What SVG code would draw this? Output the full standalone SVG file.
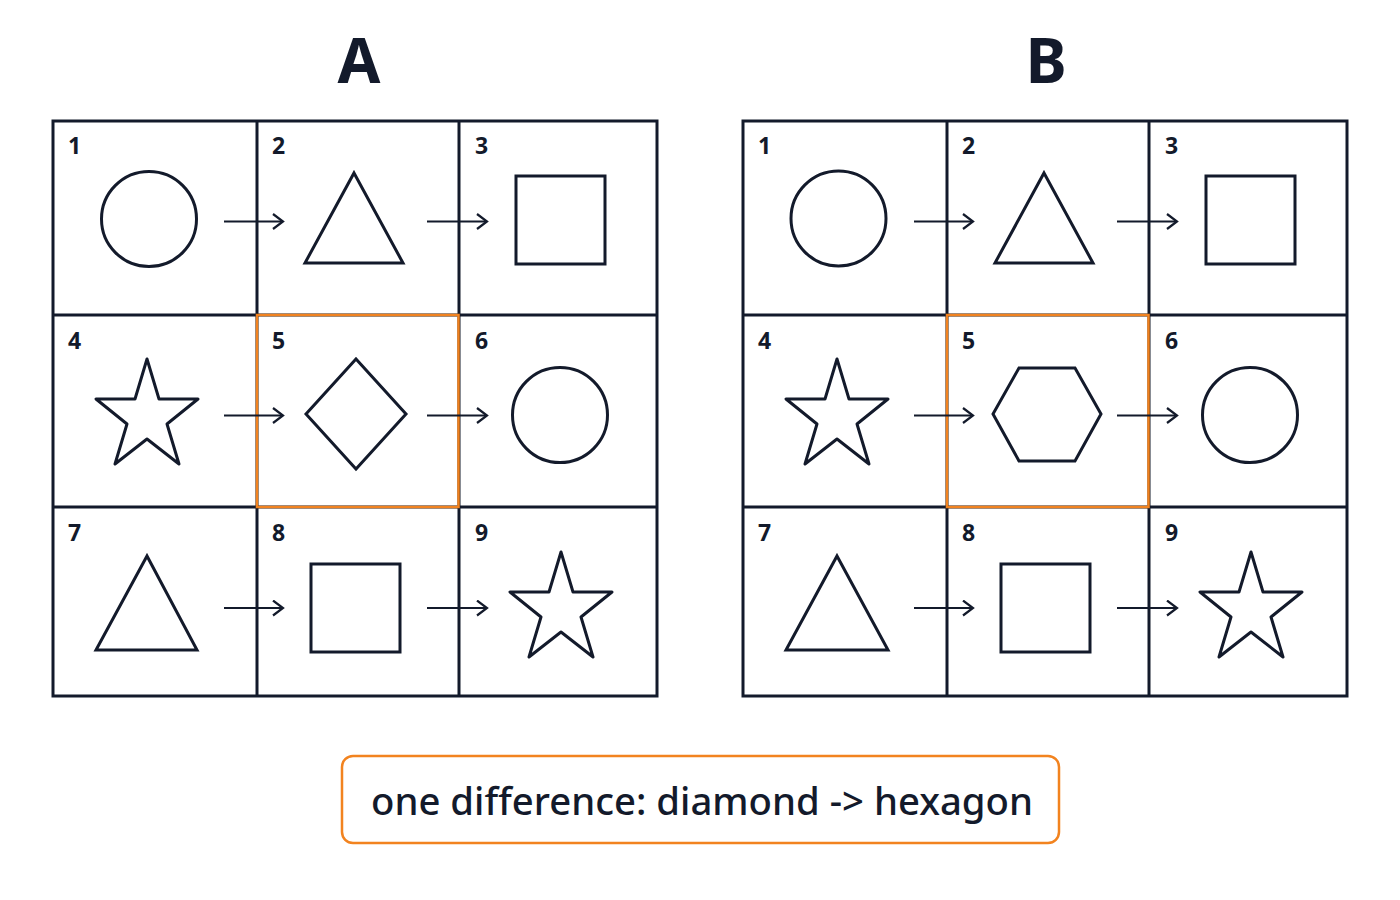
<svg xmlns="http://www.w3.org/2000/svg" width="1400" height="900" viewBox="0 0 1400 900">
<defs>
<style>
.grid{fill:none;stroke:#131a2b;stroke-width:3}
.shape{fill:none;stroke:#131a2b;stroke-width:3;stroke-linejoin:miter}
.starshape{fill:none;stroke:#131a2b;stroke-width:3;stroke-linejoin:round}
.hl{fill:none;stroke:#f2831f;stroke-width:2.5}
.num{font-family:"Noto Sans","DejaVu Sans",sans-serif;font-weight:700;font-size:23px;fill:#131a2b}
.title{font-family:"Noto Sans","DejaVu Sans",sans-serif;font-weight:700;font-size:62px;fill:#131a2b;text-anchor:middle}
.note{font-family:"Noto Sans","DejaVu Sans",sans-serif;font-weight:500;font-size:38px;fill:#131a2b}
.arrow{fill:none;stroke:#131a2b;stroke-width:2.2}
</style>
<marker id="chev" markerUnits="userSpaceOnUse" markerWidth="14" markerHeight="18" refX="11" refY="8.5" orient="auto">
<path d="M1,1 L11,8.5 L1,16" fill="none" stroke="#131a2b" stroke-width="2.2"/>
</marker>
<polygon id="star" points="0,-53 12,-13 51,-13 20,12 32,52 0,27 -32,52 -20,12 -51,-13 -12,-13"/>
</defs>
<rect width="1400" height="900" fill="#ffffff"/>

<g id="titles">
<text class="title" x="359" y="83">A</text>
<text class="title" x="1046" y="83">B</text>
</g>

<g id="gridA">
<rect class="grid" x="53" y="121" width="604" height="575"/>
<line class="grid" x1="257" y1="121" x2="257" y2="696"/>
<line class="grid" x1="459" y1="121" x2="459" y2="696"/>
<line class="grid" x1="53" y1="315" x2="657" y2="315"/>
<line class="grid" x1="53" y1="507" x2="657" y2="507"/>
</g>
<g id="gridB">
<rect class="grid" x="743" y="121" width="604" height="575"/>
<line class="grid" x1="947" y1="121" x2="947" y2="696"/>
<line class="grid" x1="1149" y1="121" x2="1149" y2="696"/>
<line class="grid" x1="743" y1="315" x2="1347" y2="315"/>
<line class="grid" x1="743" y1="507" x2="1347" y2="507"/>
</g>

<g id="A1"><text class="num" x="68" y="154">1</text><circle class="shape" cx="149" cy="219" r="47.5"/></g>
<g id="A2"><text class="num" x="272" y="154">2</text><polygon class="shape" points="354,173 403,263 305,263"/></g>
<g id="A3"><text class="num" x="475" y="154">3</text><rect class="shape" x="516" y="176" width="89" height="88"/></g>
<g id="A4"><text class="num" x="68" y="349">4</text><use href="#star" class="starshape" x="147" y="412"/></g>
<g id="A5"><text class="num" x="272" y="349">5</text><polygon class="shape" points="356,359 406,414 356,469 306,414"/></g>
<g id="A6"><text class="num" x="475" y="349">6</text><circle class="shape" cx="560" cy="415" r="47.5"/></g>
<g id="A7"><text class="num" x="68" y="541">7</text><polygon class="shape" points="147,556 197,650 96,650"/></g>
<g id="A8"><text class="num" x="272" y="541">8</text><rect class="shape" x="311" y="564" width="89" height="88"/></g>
<g id="A9"><text class="num" x="475" y="541">9</text><use href="#star" class="starshape" x="561" y="605"/></g>

<g id="B1"><text class="num" x="758" y="154">1</text><circle class="shape" cx="838.5" cy="218.5" r="47.5"/></g>
<g id="B2"><text class="num" x="962" y="154">2</text><polygon class="shape" points="1044,173 1093,263 995,263"/></g>
<g id="B3"><text class="num" x="1165" y="154">3</text><rect class="shape" x="1206" y="176" width="89" height="88"/></g>
<g id="B4"><text class="num" x="758" y="349">4</text><use href="#star" class="starshape" x="837" y="412"/></g>
<g id="B5"><text class="num" x="962" y="349">5</text><polygon class="shape" points="1019,368 1075,368 1101,414 1075,461 1019,461 993,414"/></g>
<g id="B6"><text class="num" x="1165" y="349">6</text><circle class="shape" cx="1250" cy="415" r="47.5"/></g>
<g id="B7"><text class="num" x="758" y="541">7</text><polygon class="shape" points="837,556 888,650 786,650"/></g>
<g id="B8"><text class="num" x="962" y="541">8</text><rect class="shape" x="1001" y="564" width="89" height="88"/></g>
<g id="B9"><text class="num" x="1165" y="541">9</text><use href="#star" class="starshape" x="1251" y="605"/></g>

<g id="highlights">
<rect class="hl" x="257" y="315" width="201.5" height="192"/>
<rect class="hl" x="947" y="315" width="201.5" height="192"/>
</g>

<g id="connectors">
<line class="arrow" x1="224" y1="221.5" x2="283" y2="221.5" marker-end="url(#chev)"/>
<line class="arrow" x1="427" y1="221.5" x2="487" y2="221.5" marker-end="url(#chev)"/>
<line class="arrow" x1="224" y1="415.5" x2="283" y2="415.5" marker-end="url(#chev)"/>
<line class="arrow" x1="427" y1="415.5" x2="487" y2="415.5" marker-end="url(#chev)"/>
<line class="arrow" x1="224" y1="608" x2="283" y2="608" marker-end="url(#chev)"/>
<line class="arrow" x1="427" y1="608" x2="487" y2="608" marker-end="url(#chev)"/>
<line class="arrow" x1="914" y1="221.5" x2="973" y2="221.5" marker-end="url(#chev)"/>
<line class="arrow" x1="1117" y1="221.5" x2="1177" y2="221.5" marker-end="url(#chev)"/>
<line class="arrow" x1="914" y1="415.5" x2="973" y2="415.5" marker-end="url(#chev)"/>
<line class="arrow" x1="1117" y1="415.5" x2="1177" y2="415.5" marker-end="url(#chev)"/>
<line class="arrow" x1="914" y1="608" x2="973" y2="608" marker-end="url(#chev)"/>
<line class="arrow" x1="1117" y1="608" x2="1177" y2="608" marker-end="url(#chev)"/>
</g>

<g id="note">
<rect x="342" y="756" width="717" height="87" rx="11" fill="#ffffff" stroke="#f2831f" stroke-width="2.5"/>
<text class="note" x="371" y="815" textLength="662" lengthAdjust="spacingAndGlyphs">one difference: diamond -&gt; hexagon</text>
</g>
</svg>
